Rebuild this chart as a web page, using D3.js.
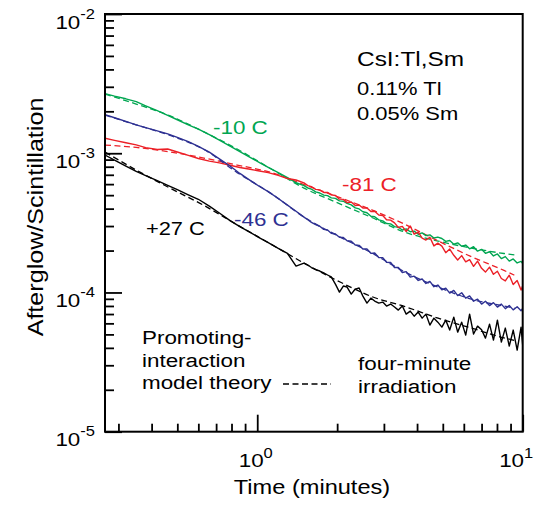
<!DOCTYPE html>
<html><head><meta charset="utf-8">
<script src="https://cdn.jsdelivr.net/npm/d3@7"></script>
<style>body{margin:0;background:#fff}svg{display:block}</style>
</head><body>
<script>
// ---------- data ----------
const times = [0.267,0.29,0.32,0.35,0.38,0.42,0.46,0.5,0.55,0.6,0.66,0.72,0.79,0.86,0.94,1.02,1.1,1.2,1.3,1.4,
 1.5,1.55,1.6,1.66,1.72,1.78,1.84,1.9,1.97,2.04,2.11,2.18,2.26,2.34,2.42,2.5,2.59,2.68,2.77,2.87,
 2.97,3.07,3.18,3.29,3.4,3.52,3.64,3.77,3.9,4.04,4.18,4.32,4.47,4.63,4.79,4.96,5.13,5.31,5.5,5.69,
 5.89,6.1,6.31,6.53,6.76,7.0,7.24,7.5,7.76,8.03,8.31,8.6,8.9,9.21,9.53,9.86,10.0];

const green10 = [2.68e-3,2.57e-3,2.46e-3,2.35e-3,2.19e-3,2.02e-3,1.87e-3,1.74e-3,1.60e-3,1.49e-3,1.36e-3,1.24e-3,1.123e-3,1.026e-3,0.934e-3,0.856e-3,0.792e-3,0.726e-3,0.669e-3,0.614e-3,
 0.585e-3,0.563e-3,0.552e-3,0.528e-3,0.518e-3,0.500e-3,0.496e-3,0.478e-3,0.474e-3,0.455e-3,0.452e-3,0.436e-3,0.426e-3,0.405e-3,0.398e-3,0.380e-3,0.374e-3,0.353e-3,0.350e-3,0.332e-3,
 0.327e-3,0.313e-3,0.311e-3,0.297e-3,0.294e-3,0.281e-3,0.286e-3,0.273e-3,0.276e-3,0.262e-3,0.268e-3,0.256e-3,0.259e-3,0.246e-3,0.250e-3,0.244e-3,0.233e-3,0.236e-3,0.222e-3,0.227e-3,
 0.215e-3,0.219e-3,0.206e-3,0.213e-3,0.198e-3,0.204e-3,0.191e-3,0.196e-3,0.183e-3,0.189e-3,0.175e-3,0.181e-3,0.168e-3,0.174e-3,0.163e-3,0.167e-3,0.161e-3];

const red81 = [1.281e-3,1.238e-3,1.190e-3,1.149e-3,1.097e-3,1.063e-3,1.072e-3,1.020e-3,0.964e-3,0.917e-3,0.878e-3,0.853e-3,0.819e-3,0.790e-3,0.767e-3,0.745e-3,0.726e-3,0.693e-3,0.658e-3,0.642e-3,
 0.612e-3,0.586e-3,0.575e-3,0.550e-3,0.546e-3,0.522e-3,0.523e-3,0.502e-3,0.497e-3,0.468e-3,0.466e-3,0.442e-3,0.446e-3,0.421e-3,0.425e-3,0.404e-3,0.405e-3,0.381e-3,0.383e-3,0.360e-3,
 0.357e-3,0.333e-3,0.331e-3,0.316e-3,0.293e-3,0.298e-3,0.274e-3,0.300e-3,0.262e-3,0.271e-3,0.246e-3,0.238e-3,0.249e-3,0.216e-3,0.226e-3,0.215e-3,0.193e-3,0.205e-3,0.185e-3,0.171e-3,
 0.184e-3,0.166e-3,0.172e-3,0.154e-3,0.168e-3,0.149e-3,0.140e-3,0.152e-3,0.135e-3,0.142e-3,0.126e-3,0.121e-3,0.133e-3,0.114e-3,0.122e-3,0.104e-3,0.112e-3];

const blue46 = [1.894e-3,1.799e-3,1.693e-3,1.598e-3,1.526e-3,1.446e-3,1.376e-3,1.299e-3,1.212e-3,1.122e-3,1.018e-3,0.910e-3,0.810e-3,0.716e-3,0.639e-3,0.577e-3,0.530e-3,0.473e-3,0.424e-3,0.383e-3,
 0.348e-3,0.333e-3,0.319e-3,0.307e-3,0.299e-3,0.284e-3,0.281e-3,0.266e-3,0.263e-3,0.249e-3,0.248e-3,0.235e-3,0.233e-3,0.219e-3,0.218e-3,0.205e-3,0.205e-3,0.191e-3,0.192e-3,0.178e-3,
 0.178e-3,0.165e-3,0.164e-3,0.151e-3,0.151e-3,0.139e-3,0.141e-3,0.129e-3,0.131e-3,0.122e-3,0.125e-3,0.116e-3,0.120e-3,0.110e-3,0.113e-3,0.1045e-3,0.1075e-3,0.099e-3,0.1035e-3,0.095e-3,
 0.0995e-3,0.091e-3,0.0945e-3,0.0865e-3,0.0895e-3,0.0825e-3,0.0865e-3,0.0805e-3,0.0845e-3,0.0785e-3,0.0825e-3,0.0765e-3,0.0805e-3,0.0750e-3,0.0790e-3,0.0740e-3,0.0770e-3];

const black27 = [0.970e-3,0.892e-3,0.807e-3,0.740e-3,0.690e-3,0.635e-3,0.587e-3,0.547e-3,0.503e-3,0.467e-3,0.417e-3,0.372e-3,0.328e-3,0.297e-3,0.2705e-3,0.247e-3,0.228e-3,0.207e-3,0.1906e-3,0.1548e-3,
 0.1627e-3,0.1574e-3,0.1511e-3,0.1461e-3,0.1426e-3,0.1380e-3,0.1335e-3,0.1292e-3,0.1149e-3,0.1006e-3,0.1112e-3,0.1094e-3,0.0973e-3,0.1058e-3,0.1076e-3,0.0942e-3,0.0839e-3,0.0911e-3,0.0868e-3,0.0839e-3,
 0.0853e-3,0.0799e-3,0.0826e-3,0.0786e-3,0.0747e-3,0.0799e-3,0.0699e-3,0.0735e-3,0.0676e-3,0.0723e-3,0.0654e-3,0.0699e-3,0.0583e-3,0.0654e-3,0.0612e-3,0.0564e-3,0.0633e-3,0.0537e-3,0.0665e-3,0.0519e-3,
 0.0612e-3,0.0494e-3,0.0699e-3,0.0503e-3,0.0573e-3,0.0540e-3,0.0470e-3,0.0592e-3,0.0455e-3,0.0633e-3,0.0440e-3,0.0555e-3,0.0412e-3,0.0537e-3,0.0386e-3,0.0564e-3,0.0419e-3];

// model theory (dashed)
const theoryTimes = [0.267,0.35,0.47,0.63,0.84,1.13,1.5,2.0,2.7,3.6,4.8,6.4,8.5,9.3];
const greenTheory = [2.66e-3,2.256e-3,1.853e-3,1.422e-3,1.072e-3,0.770e-3,0.562e-3,0.4416e-3,0.3454e-3,0.271e-3,0.234e-3,0.2085e-3,0.1905e-3,0.186e-3];
const redTheory   = [1.145e-3,1.101e-3,1.021e-3,0.923e-3,0.823e-3,0.7276e-3,0.595e-3,0.488e-3,0.392e-3,0.3083e-3,0.2345e-3,0.1808e-3,0.1440e-3,0.1331e-3];
const blueTheory  = [1.88e-3,1.598e-3,1.342e-3,1.063e-3,0.726e-3,0.513e-3,0.348e-3,0.2566e-3,0.1922e-3,0.1403e-3,0.1094e-3,0.0896e-3,0.0799e-3,0.0773e-3];
const blackTheory = [1.020e-3,0.757e-3,0.5606e-3,0.4216e-3,0.3062e-3,0.2217e-3,0.1625e-3,0.1218e-3,0.0934e-3,0.0792e-3,0.0653e-3,0.0555e-3,0.0472e-3,0.0453e-3];

const seriesNames = ["-10 C","-81 C","-46 C","+27 C"];
const xMajorTicks = [1, 10];
const xMinorTicks = [0.3,0.4,0.5,0.6,0.7,0.8,0.9,2,3,4,5,6,7,8,9];
const yMajorTicks = [1e-2,1e-3,1e-4,1e-5];
const yMinorTicks = [2e-3,3e-3,4e-3,5e-3,6e-3,7e-3,8e-3,9e-3,2e-4,3e-4,4e-4,5e-4,6e-4,7e-4,8e-4,9e-4,2e-5,3e-5,4e-5,5e-5,6e-5,7e-5,8e-5,9e-5];
const xTickExp = ["0","1"];
const yTickExp = ["-2","-3","-4","-5"];
const xTitle = "Time (minutes)";
const yTitle = "Afterglow/Scintillation";
const sampleLines = ["CsI:Tl,Sm","0.11% Tl","0.05% Sm"];
const theoryNote = ["Promoting-","interaction","model theory"];
const irradNote = ["four-minute","irradiation"];

// ---------- drawing ----------
const W = 543, H = 505;
const FONT = "'Liberation Sans', Arial, Helvetica, sans-serif";
const SX = 1.18; // horizontal text stretch of the original
const colors = {green:"#00a651", red:"#ec2027", blue:"#2e3192", black:"#000000"};

const svg = d3.select("body").append("svg").attr("width", W).attr("height", H);
const L = 105, R = 522.7, T = 14, B = 431.7;
const x = d3.scaleLog().domain([0.267, 10]).range([L, R]);
const y = d3.scaleLog().domain([1e-5, 1e-2]).range([B, T]);

function txt(px, py, str, size, fill, anchor, rot) {
  const g = svg.append("g").attr("transform",
    `translate(${px},${py})` + (rot ? ` rotate(${rot})` : "") + ` scale(${SX},1)`);
  return g.append("text").attr("x", 0).attr("y", 0)
    .attr("font-family", FONT).attr("font-size", size)
    .attr("fill", fill || "#000").attr("text-anchor", anchor || "start").text(str);
}

svg.append("defs").append("clipPath").attr("id","clip")
  .append("rect").attr("x", L).attr("y", T).attr("width", R - L).attr("height", B - T);

const plot = svg.append("g").attr("clip-path", "url(#clip)");
const line = d3.line().x(d => x(d[0])).y(d => y(d[1]));
const smooth = d3.line().x(d => x(d[0])).y(d => y(d[1])).curve(d3.curveMonotoneX);

const dataSeries = [
  {v: green10, th: greenTheory, c: colors.green},
  {v: red81,   th: redTheory,   c: colors.red},
  {v: blue46,  th: blueTheory,  c: colors.blue},
  {v: black27, th: blackTheory, c: colors.black}
];
dataSeries.forEach(s => {
  plot.append("path").attr("d", smooth(theoryTimes.map((t, i) => [t, s.th[i]])))
    .attr("fill", "none").attr("stroke", s.c).attr("stroke-width", 1.3)
    .attr("stroke-dasharray", "6,3.5");
});
dataSeries.forEach(s => {
  plot.append("path").attr("d", line(times.map((t, i) => [t, s.v[i]])))
    .attr("fill", "none").attr("stroke", s.c).attr("stroke-width", 1.4)
    .attr("stroke-linejoin", "round");
});

function styleAxis(g) {
  g.select(".domain").remove();
  g.selectAll(".tick line").attr("stroke", "#000").attr("stroke-width", 1.8);
  g.selectAll(".tick text").remove();
}
svg.append("g").attr("transform", `translate(${L},0)`)
  .call(d3.axisLeft(y).tickValues(yMajorTicks).tickSize(-17).tickFormat("")).call(styleAxis);
svg.append("g").attr("transform", `translate(${L},0)`)
  .call(d3.axisLeft(y).tickValues(yMinorTicks).tickSize(-9).tickFormat("")).call(styleAxis);
svg.append("g").attr("transform", `translate(0,${B})`)
  .call(d3.axisBottom(x).tickValues(xMajorTicks).tickSize(-17).tickFormat("")).call(styleAxis);
svg.append("g").attr("transform", `translate(0,${B})`)
  .call(d3.axisBottom(x).tickValues(xMinorTicks).tickSize(-8).tickFormat("")).call(styleAxis);

svg.append("rect").attr("x", L).attr("y", T).attr("width", R - L).attr("height", B - T)
  .attr("fill", "none").attr("stroke", "#000").attr("stroke-width", 2);

yMajorTicks.forEach((v, i) => {
  const t = txt(95, y(v) + 14.5, "", 19, "#000", "end");
  t.append("tspan").text("10");
  t.append("tspan").attr("dy", -10).attr("font-size", 14).text(yTickExp[i]);
});
xMajorTicks.forEach((v, i) => {
  const t = txt(x(v) - (i === 0 ? 1.5 : 6.5), 467, "", 19, "#000", "middle");
  t.append("tspan").text("10");
  t.append("tspan").attr("dy", -9).attr("font-size", 14).text(xTickExp[i]);
});

txt(312, 494, xTitle, 20, "#000", "middle");
txt(43, 217, yTitle, 21.3, "#000", "middle", -90);

txt(213, 134, seriesNames[0], 19, colors.green);
txt(342, 191, seriesNames[1], 19, colors.red);
txt(234, 226, seriesNames[2], 19, colors.blue);
txt(146, 235, seriesNames[3], 18.5, "#000");

txt(357, 66, sampleLines[0], 20.7, "#000");
txt(357, 95, sampleLines[1], 18.6, "#000");
txt(357, 120, sampleLines[2], 18.6, "#000");

theoryNote.forEach((s, i) => txt(142, 344 + i * 22.5, s, 19, "#000"));
svg.append("line").attr("x1", 283).attr("x2", 331).attr("y1", 384).attr("y2", 384)
  .attr("stroke", "#000").attr("stroke-width", 1.3).attr("stroke-dasharray", "6,3.5");
irradNote.forEach((s, i) => txt(358, 370 + i * 23, s, 19, "#000"));
</script>
</body></html>
